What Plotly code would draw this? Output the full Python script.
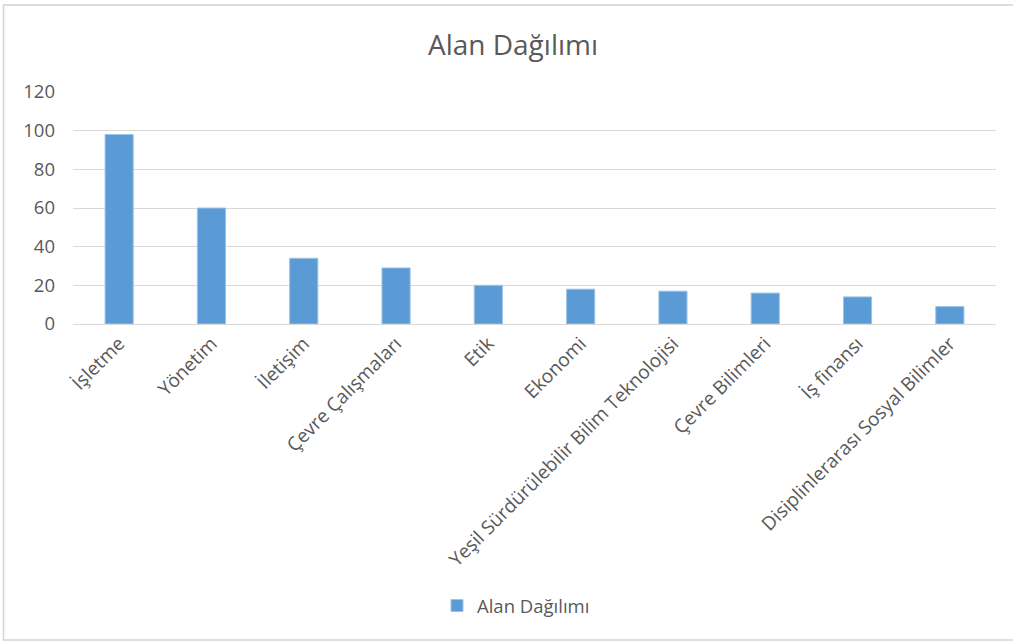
import plotly.graph_objects as go

categories = ["İşletme", "Yönetim", "İletişim", "Çevre Çalışmaları", "Etik", "Ekonomi",
              "Yeşil Sürdürülebilir Bilim Teknolojisi", "Çevre Bilimleri", "İş finansı",
              "Disiplinlerarası Sosyal Bilimler"]
values = [98, 60, 34, 29, 20, 18, 17, 16, 14, 9]
series_name = "Alan Dağılımı"
y_ticks = [0, 20, 40, 60, 80, 100, 120]

FONT = "Open Sans"
GRAY = "#595959"

W, H = 1013, 642
L, R, T, B = 73, 996, 92, 324

def px_to_paper_x(px):
    return (px - L) / (R - L)

def px_to_paper_y(py):
    return (B - py) / (B - T)

fig = go.Figure()
fig.add_trace(go.Bar(
    x=categories, y=values, name=series_name,
    marker=dict(color="#5B9BD5", line=dict(color="#9DC3E6", width=1)),
    showlegend=True,
))

fig.update_layout(
    width=W, height=H,
    margin=dict(l=L, r=W - R, t=T, b=H - B, autoexpand=False),
    paper_bgcolor="white", plot_bgcolor="white",
    bargap=0.695,
    font=dict(family=FONT, color=GRAY, size=18),
    title=dict(text="Alan Dağılımı", x=513 / W, xref="container", xanchor="center",
               y=1 - 45 / H, yref="container", yanchor="middle",
               font=dict(family=FONT, size=28, color=GRAY)),
    showlegend=True,
    legend=dict(orientation="h", x=px_to_paper_x(516), xanchor="center",
                y=px_to_paper_y(606), yanchor="middle",
                font=dict(family=FONT, size=18.5, color=GRAY),
                itemwidth=30),
    xaxis=dict(tickangle=-45, tickfont=dict(family=FONT, size=19, color=GRAY),
               showline=True, linecolor="#D9D9D9", linewidth=1, ticks="",
               showgrid=False),
    yaxis=dict(range=[0, 120], tickvals=y_ticks, showgrid=True, gridcolor="#D9D9D9",
               gridwidth=1, zeroline=False, showline=False, ticks="",
               tickfont=dict(family=FONT, size=18.5, color=GRAY),
               ticklabelstandoff=17),
    shapes=[dict(type="rect", xref="paper", yref="paper",
                 x0=px_to_paper_x(3.5), x1=px_to_paper_x(1014),
                 y0=px_to_paper_y(640), y1=px_to_paper_y(5),
                 line=dict(color="#D4D4D4", width=1.5), fillcolor="rgba(0,0,0,0)",
                 layer="below")],
)

fig.write_html("out.html",
               config={"displayModeBar": False},
               post_script="document.body.style.margin='0';document.body.style.padding='0';document.body.style.overflow='hidden';")
